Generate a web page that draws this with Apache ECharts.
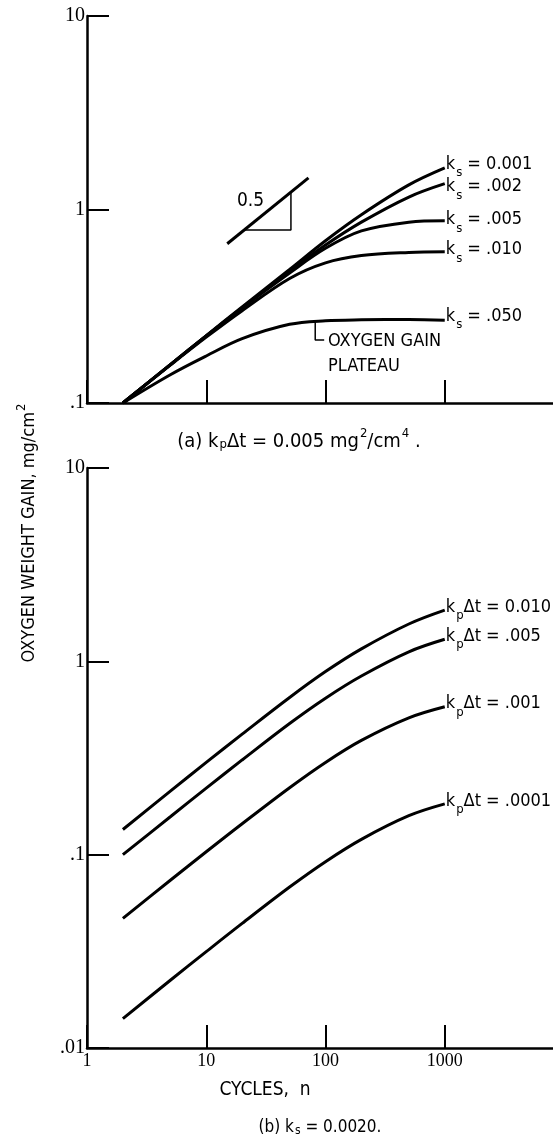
<!DOCTYPE html>
<html>
<head>
<meta charset="utf-8">
<script src="https://cdn.jsdelivr.net/npm/echarts@6.0.0/dist/echarts.min.js"></script>
<style>
html, body { margin: 0; padding: 0; background: #fff; }
#chart { width: 553px; height: 1140px; }
</style>
</head>
<body>
<div id="chart"></div>
<script>
// cycles n where the curves were read
var cycles = [2, 5, 10, 20, 50, 100, 200, 500, 1000];

// (a) kp*dt = 0.005 mg2/cm4, several ks
var ksLabels = ['0.001', '.002', '.005', '.010', '.050'];
var gainKs001 = [0.1, 0.158, 0.223, 0.314, 0.49, 0.69, 0.94, 1.34, 1.64];
var gainKs002 = [0.1, 0.158, 0.222, 0.311, 0.48, 0.655, 0.86, 1.16, 1.36];
var gainKs005 = [0.1, 0.158, 0.222, 0.31, 0.47, 0.63, 0.775, 0.86, 0.875];
var gainKs010 = [0.1, 0.157, 0.219, 0.30, 0.44, 0.53, 0.578, 0.60, 0.605];
var gainKs050 = [0.1, 0.14, 0.175, 0.215, 0.255, 0.266, 0.269, 0.27, 0.268];

// (b) ks = 0.0020, several kp*dt
var kpLabels = ['0.010', '.005', '.001', '.0001'];
var gainKp010 = [0.135, 0.213, 0.30, 0.42, 0.65, 0.885, 1.16, 1.56, 1.84];
var gainKp005 = [0.1, 0.157, 0.221, 0.309, 0.477, 0.645, 0.84, 1.12, 1.30];
var gainKp001 = [0.0468, 0.0737, 0.1035, 0.1445, 0.222, 0.30, 0.39, 0.51, 0.582];
var gainKp0001 = [0.0142, 0.0224, 0.0315, 0.0441, 0.068, 0.092, 0.12, 0.159, 0.183];

// slope 0.5 sketch, plateau leader (n, gain)
var slopeLine = [[15, 0.665], [72, 1.457]];
var slopeTriangle = [[20.8, 0.783], [51.3, 0.783], [51.3, 1.23]];
var plateauLeader = [[82, 0.262], [82, 0.2116], [97.5, 0.2116]];

// small vertical nudges of the end labels (px)
var ksLabelShift = [0, 7, 3, 2, 0];
var kpLabelShift = [1, 1, 1, 1];

var sans = "'Liberation Sans Narrow', 'DejaVu Sans Condensed', sans-serif";
var serif = "'Liberation Serif', 'DejaVu Serif', serif";

var rich = {
  m: { fontSize: 18, fontFamily: sans, color: '#000', verticalAlign: 'top', lineHeight: 20 },
  s: { fontSize: 13, fontFamily: sans, color: '#000', verticalAlign: 'top', lineHeight: 26, padding: [11, 0, 0, 1] },
  u: { fontSize: 13, fontFamily: sans, color: '#000', verticalAlign: 'top', lineHeight: 26, padding: [0, 0, 0, 1] },
  c: { fontSize: 20, fontFamily: sans, color: '#000', verticalAlign: 'top', lineHeight: 26, padding: [5, 0, 0, 0] },
  t: { fontSize: 18, fontFamily: sans, color: '#000', verticalAlign: 'top', lineHeight: 26, padding: [5, 0, 0, 0] },
  b: { fontSize: 17, fontFamily: sans, color: '#000', verticalAlign: 'top', lineHeight: 26, padding: [5, 0, 0, 0] },
  bs: { fontSize: 12, fontFamily: sans, color: '#000', verticalAlign: 'top', lineHeight: 26, padding: [11, 0, 0, 1] }
};

function curve(xs, ys, grid, text, shift) {
  var data = xs.map(function (x, i) { return [x, ys[i]]; });
  var last = data.length - 1;
  data[last] = {
    value: data[last],
    label: { show: true, position: 'right', distance: 1, offset: [0, shift], formatter: text, rich: rich }
  };
  return {
    type: 'line', xAxisIndex: grid, yAxisIndex: grid,
    data: data, smooth: 0.35, symbol: 'circle', symbolSize: 0,
    lineStyle: { color: '#000', width: 3 },
    itemStyle: { color: '#000' },
    label: { show: false }
  };
}

function sketch(pts, width) {
  return {
    type: 'line', xAxisIndex: 0, yAxisIndex: 0, data: pts,
    symbol: 'none', lineStyle: { color: '#000', width: width }
  };
}

function yLabel(v) {
  var t = String(Number(v.toPrecision(6)));
  return t.replace(/^0\./, '.');
}

var xAxisBase = {
  type: 'log', logBase: 10, min: 1, max: 10000,
  axisLine: { lineStyle: { color: '#000', width: 2.5 } },
  axisTick: { inside: true, length: 23, lineStyle: { color: '#000', width: 2 } },
  splitLine: { show: false }
};
var yAxisBase = {
  type: 'log', logBase: 10,
  axisLine: { lineStyle: { color: '#000', width: 2.5 } },
  axisTick: { inside: true, length: 22, lineStyle: { color: '#000', width: 2 } },
  axisLabel: { color: '#000', fontFamily: serif, fontSize: 20, margin: 2, formatter: yLabel },
  splitLine: { show: false }
};

var chart = echarts.init(document.getElementById('chart'));
chart.setOption({
  backgroundColor: '#fff',
  animation: false,
  grid: [
    { left: 87, top: 16, width: 477, height: 387, outerBoundsMode: 'none', containLabel: false },
    { left: 87, top: 468, width: 477, height: 580, outerBoundsMode: 'none', containLabel: false }
  ],
  xAxis: [
    Object.assign({}, xAxisBase, { gridIndex: 0, axisLabel: { show: false } }),
    Object.assign({}, xAxisBase, {
      gridIndex: 1,
      axisLabel: {
        color: '#000', fontFamily: serif, fontSize: 18, margin: 4,
        formatter: function (v) { return v >= 10000 ? '' : String(Math.round(v)); }
      }
    })
  ],
  yAxis: [
    Object.assign({}, yAxisBase, { gridIndex: 0, min: 0.1, max: 10 }),
    Object.assign({}, yAxisBase, { gridIndex: 1, min: 0.01, max: 10 })
  ],
  series: [
    curve(cycles, gainKs001, 0, '{m|k}{s|s}{m| = ' + ksLabels[0] + '}', ksLabelShift[0]),
    curve(cycles, gainKs002, 0, '{m|k}{s|s}{m| = ' + ksLabels[1] + '}', ksLabelShift[1]),
    curve(cycles, gainKs005, 0, '{m|k}{s|s}{m| = ' + ksLabels[2] + '}', ksLabelShift[2]),
    curve(cycles, gainKs010, 0, '{m|k}{s|s}{m| = ' + ksLabels[3] + '}', ksLabelShift[3]),
    curve(cycles, gainKs050, 0, '{m|k}{s|s}{m| = ' + ksLabels[4] + '}', ksLabelShift[4]),
    curve(cycles, gainKp010, 1, '{m|k}{s|p}{m|\u0394t = ' + kpLabels[0] + '}', kpLabelShift[0]),
    curve(cycles, gainKp005, 1, '{m|k}{s|p}{m|\u0394t = ' + kpLabels[1] + '}', kpLabelShift[1]),
    curve(cycles, gainKp001, 1, '{m|k}{s|p}{m|\u0394t = ' + kpLabels[2] + '}', kpLabelShift[2]),
    curve(cycles, gainKp0001, 1, '{m|k}{s|p}{m|\u0394t = ' + kpLabels[3] + '}', kpLabelShift[3]),
    sketch(slopeLine, 3),
    sketch(slopeTriangle, 1.5),
    sketch(plateauLeader, 1.5)
  ],
  graphic: [
    { type: 'text', x: 237, y: 201, style: { text: '0.5', fontSize: 19, fontFamily: sans, fill: '#000', verticalAlign: 'middle', textVerticalAlign: 'middle' } },
    { type: 'text', x: 328, y: 341, style: { text: 'OXYGEN GAIN', fontSize: 18, fontFamily: sans, fill: '#000', verticalAlign: 'middle', textVerticalAlign: 'middle' } },
    { type: 'text', x: 328, y: 366, style: { text: 'PLATEAU', fontSize: 18, fontFamily: sans, fill: '#000', verticalAlign: 'middle', textVerticalAlign: 'middle' } },
    { type: 'text', x: 299, y: 440, style: {
      text: '{c|(a) k}{s|p}{c|\u0394t = 0.005 mg}{u|2}{c|/cm}{u|4}{c| .}', rich: rich,
      align: 'center', textAlign: 'center', verticalAlign: 'middle', textVerticalAlign: 'middle' } },
    { type: 'text', x: 28, y: 533, rotation: Math.PI / 2, style: {
      text: '{t|OXYGEN WEIGHT GAIN, mg/cm}{u|2}', rich: rich,
      align: 'center', textAlign: 'center', verticalAlign: 'middle', textVerticalAlign: 'middle' } },
    { type: 'text', x: 265, y: 1090, style: { text: 'CYCLES,  n', fontSize: 19, fontFamily: sans, fill: '#000',
      align: 'center', textAlign: 'center', verticalAlign: 'middle', textVerticalAlign: 'middle' } },
    { type: 'text', x: 320, y: 1127, style: {
      text: '{b|(b) k}{bs|s}{b| = 0.0020.}', rich: rich,
      align: 'center', textAlign: 'center', verticalAlign: 'middle', textVerticalAlign: 'middle' } }
  ]
});
</script>
</body>
</html>
